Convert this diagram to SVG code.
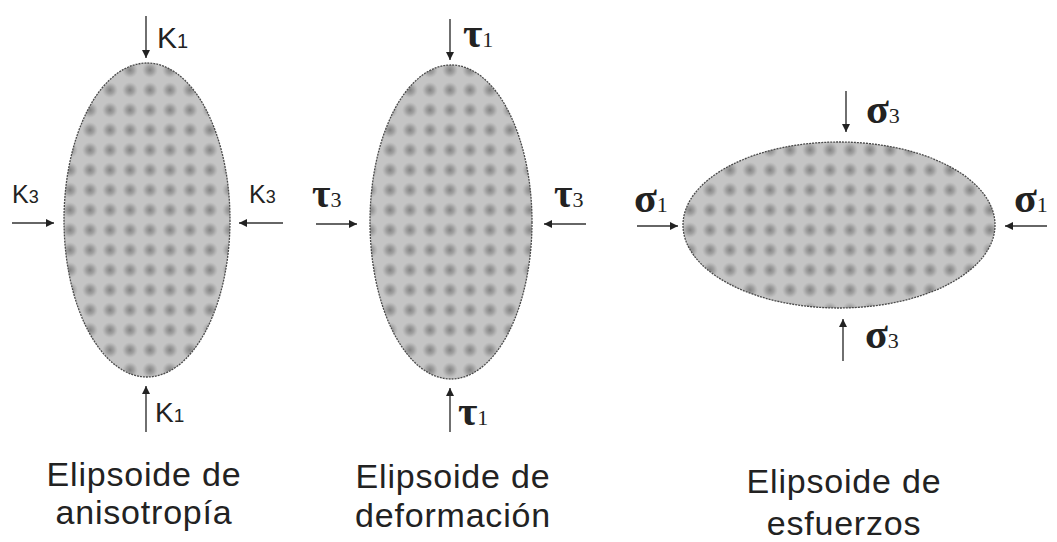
<svg xmlns="http://www.w3.org/2000/svg" width="1057" height="542" viewBox="0 0 1057 542">
<style>
.ell{fill:url(#dots);stroke:#4a4a4a;stroke-width:1.3;stroke-dasharray:2 1}
.arr{stroke:#333;stroke-width:1.4;fill:none;marker-end:url(#ah)}
.k{font-family:"Liberation Sans",Arial,sans-serif;fill:#222}
.g{font-family:"Liberation Serif","Times New Roman",serif;fill:#222;font-weight:bold}
.cap{font-family:"Liberation Sans",Arial,sans-serif;font-size:34px;fill:#222;text-anchor:middle;letter-spacing:0.8px}
</style>
<defs>
<radialGradient id="dg">
<stop offset="0" stop-color="#828282"/>
<stop offset="0.5" stop-color="#939393" stop-opacity="0.7"/>
<stop offset="1" stop-color="#a4a4a4" stop-opacity="0"/>
</radialGradient>
<pattern id="dots" width="20" height="20" patternUnits="userSpaceOnUse">
<rect width="20" height="20" fill="#c4c4c4"/>
<circle cx="10" cy="10" r="8" fill="url(#dg)"/>
</pattern>
<marker id="ah" viewBox="0 0 10 10" refX="10" refY="5" markerWidth="8" markerHeight="8" markerUnits="userSpaceOnUse" orient="auto">
<path d="M0,0 L10,5 L0,10 z" fill="#222"/>
</marker>
</defs>
<g id="anisotropia">
<ellipse class="ell" cx="147" cy="220" rx="83" ry="157"/>
<text class="k" x="157" y="48" font-size="30">K<tspan font-size="20">1</tspan></text>
<text class="k" x="155" y="422" font-size="28">K<tspan font-size="19">1</tspan></text>
<text class="k" x="12" y="203" font-size="25">K<tspan font-size="18">3</tspan></text>
<text class="k" x="249" y="203" font-size="25">K<tspan font-size="18">3</tspan></text>
<text class="cap" x="144" y="486">Elipsoide de</text>
<text class="cap" x="144" y="524">anisotropía</text>
</g>
<g id="deformacion">
<ellipse class="ell" cx="451" cy="222" rx="81" ry="157"/>
<text class="g" x="463" y="47" font-size="42">τ<tspan font-size="22" font-weight="normal">1</tspan></text>
<text class="g" x="458" y="425" font-size="42">τ<tspan font-size="22" font-weight="normal">1</tspan></text>
<text class="g" x="312" y="207" font-size="40">τ<tspan font-size="22" font-weight="normal">3</tspan></text>
<text class="g" x="554" y="207" font-size="40">τ<tspan font-size="22" font-weight="normal">3</tspan></text>
<text class="cap" x="453" y="488">Elipsoide de</text>
<text class="cap" x="453" y="527">deformación</text>
</g>
<g id="esfuerzos">
<ellipse class="ell" cx="839" cy="225" rx="156" ry="83"/>
<text class="g" x="866" y="123" font-size="42">σ<tspan font-size="22" font-weight="normal">3</tspan></text>
<text class="g" x="865" y="348" font-size="42">σ<tspan font-size="22" font-weight="normal">3</tspan></text>
<text class="g" x="634" y="212" font-size="42">σ<tspan font-size="22" font-weight="normal">1</tspan></text>
<text class="g" x="1014" y="212" font-size="42">σ<tspan font-size="22" font-weight="normal">1</tspan></text>
<text class="cap" x="844" y="493">Elipsoide de</text>
<text class="cap" x="844" y="535">esfuerzos</text>
</g>
<g id="connectors">
<line class="arr" x1="146" y1="16" x2="146" y2="58"/>
<line class="arr" x1="146" y1="432" x2="146" y2="386"/>
<line class="arr" x1="12" y1="223" x2="54" y2="223"/>
<line class="arr" x1="283" y1="223" x2="239" y2="223"/>
<line class="arr" x1="450" y1="19" x2="450" y2="60"/>
<line class="arr" x1="450" y1="432" x2="450" y2="388"/>
<line class="arr" x1="316" y1="224" x2="357" y2="224"/>
<line class="arr" x1="586" y1="224" x2="544" y2="224"/>
<line class="arr" x1="846" y1="91" x2="846" y2="132"/>
<line class="arr" x1="843" y1="361" x2="843" y2="319"/>
<line class="arr" x1="637" y1="226" x2="678" y2="226"/>
<line class="arr" x1="1047" y1="226" x2="1005" y2="226"/>
</g>
</svg>
